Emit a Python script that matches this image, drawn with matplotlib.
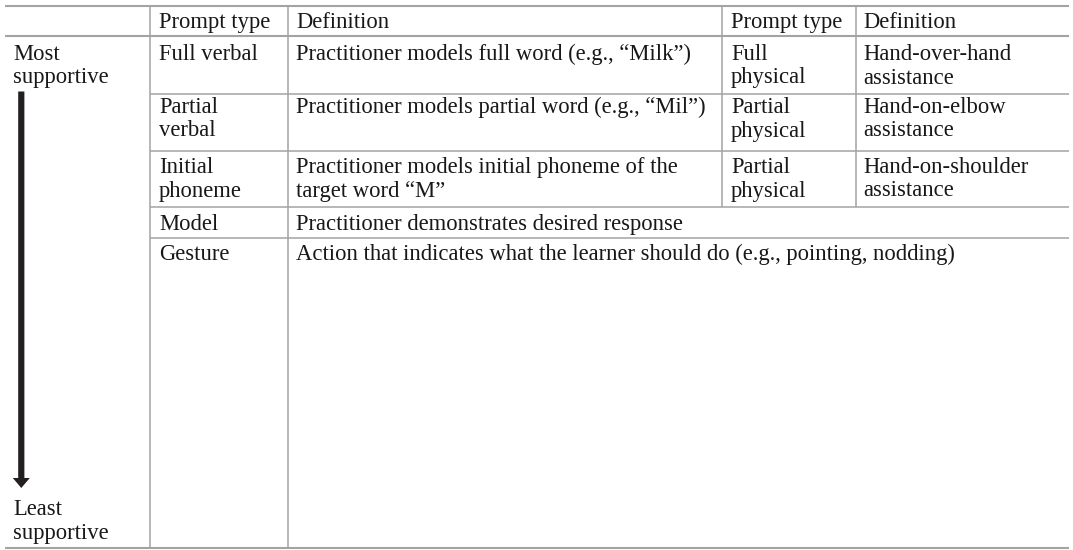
import matplotlib
matplotlib.use('Agg')
import matplotlib.pyplot as plt

# table content
header = ["", "Prompt type", "Definition", "Prompt type", "Definition"]
scale_top = ["Most", "supportive"]
scale_bottom = ["Least", "supportive"]
verbal_types = ["Full verbal", "Partial\nverbal", "Initial\nphoneme", "Model", "Gesture"]
verbal_defs = [
    "Practitioner models full word (e.g., \u201cMilk\u201d)",
    "Practitioner models partial word (e.g., \u201cMil\u201d)",
    "Practitioner models initial phoneme of the\ntarget word \u201cM\u201d",
    "Practitioner demonstrates desired response",
    "Action that indicates what the learner should do (e.g., pointing, nodding)",
]
physical_types = ["Full\nphysical", "Partial\nphysical", "Partial\nphysical"]
physical_defs = ["Hand-over-hand\nassistance", "Hand-on-elbow\nassistance",
                 "Hand-on-shoulder\nassistance"]

# layout (pixels)
W, H = 1073, 550
col_x = [5, 150, 288, 722, 856, 1069]
text_x = [13, 159, 296, 731, 863]
row_y = [6, 35.5, 94, 150.5, 207, 238, 547.5]
first_base = [60, 113, 173, 230, 260]
line_gap = 23.5
grid_c = "#a3a3a3"
ink = "#1a1718"
fs = 16.3

fig = plt.figure(figsize=(W / 100, H / 100), dpi=100)
ax = fig.add_axes([0, 0, 1, 1])
ax.set_xlim(0, W)
ax.set_ylim(H, 0)
ax.axis("off")


def put(x, y, s):
    for i, line in enumerate(s.split("\n")):
        ax.text(x, y + i * line_gap, line, fontsize=fs, family="Liberation Serif",
                color=ink, va="baseline", ha="left")


# grid lines
for y in (row_y[0], row_y[1], row_y[-1]):
    ax.plot([col_x[0], col_x[-1]], [y, y], color=grid_c, lw=1.5, solid_capstyle="butt")
for y in row_y[2:-1]:
    ax.plot([col_x[1], col_x[-1]], [y, y], color=grid_c, lw=1.1, solid_capstyle="butt")
for x in col_x[1:3]:
    ax.plot([x, x], [row_y[0], row_y[-1]], color=grid_c, lw=1.1, solid_capstyle="butt")
for x in col_x[3:5]:
    ax.plot([x, x], [row_y[0], row_y[4]], color=grid_c, lw=1.1, solid_capstyle="butt")

# header
for j, h in enumerate(header):
    put(text_x[j], 28, h)

# rows
for i, (t, d) in enumerate(zip(verbal_types, verbal_defs)):
    put(text_x[1], first_base[i], t)
    put(text_x[2], first_base[i], d)
for i, (t, d) in enumerate(zip(physical_types, physical_defs)):
    put(text_x[3], first_base[i], t)
    put(text_x[4], first_base[i], d)

# support scale
put(text_x[0], first_base[0], "\n".join(scale_top))
put(text_x[0], 515, "\n".join(scale_bottom))
ax.arrow(21.3, 91.5, 0, 396.5, width=6.2, head_width=17, head_length=10,
         length_includes_head=True, color="#231f20", lw=0)

fig.savefig("out.png", dpi=100)
